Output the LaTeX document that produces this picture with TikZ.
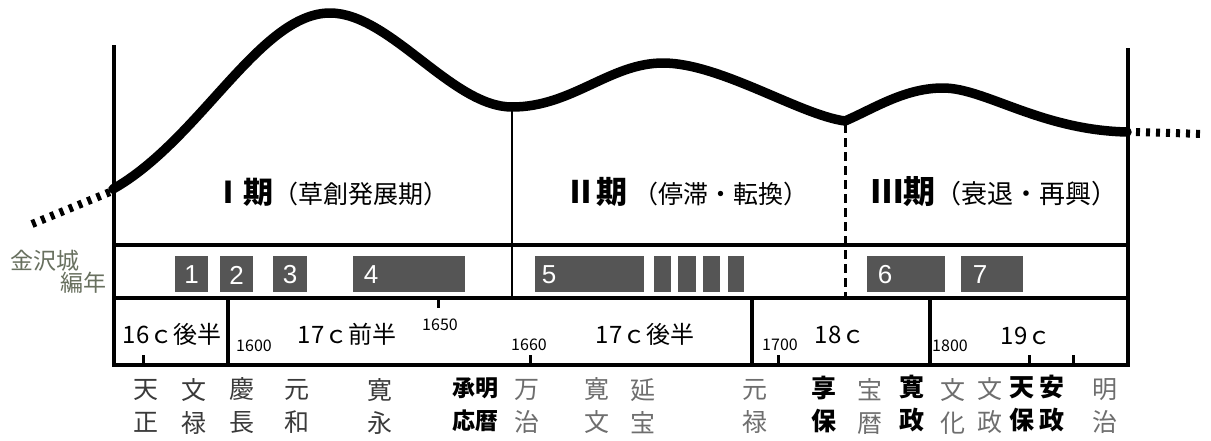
\documentclass[tikz,border=0pt]{standalone}
\usepackage{fontspec}
\setmainfont{Liberation Sans}
\newfontfamily\jp{Noto Sans CJK JP}
\definecolor{eraA}{HTML}{3A3A3A}
\definecolor{eraB}{HTML}{6E6E6E}
\definecolor{boxgray}{HTML}{555555}
\definecolor{olive}{HTML}{68705F}
\begin{document}
\begin{tikzpicture}[x=1pt,y=-1pt,
  frame/.style={line width=4.5pt},
  thin frame/.style={line width=2.5pt},
  curveline/.style={line width=9.5pt, line cap=round, line join=round},
  dotline/.style={line width=8pt, dash pattern=on 4pt off 6pt},
  era/.style={font=\jp\fontsize{25}{33}\selectfont, align=center, inner sep=0pt, text=eraB},
  eradark/.style={era, text=eraA},
  erabold/.style={era, text=black, font=\jp\bfseries\fontsize{25}{33}\selectfont},
  cent/.style={font=\jp\fontsize{24}{24}\selectfont, inner sep=0pt},
  year/.style={font=\jp\fontsize{16}{16}\selectfont, inner sep=0pt},
  period/.style={anchor=west, inner sep=0pt},
  numbox/.style={fill=boxgray, draw=none},
  num/.style={font=\fontsize{26}{26}\selectfont, text=white, inner sep=0pt},
  tick/.style={line width=3pt}
]
\useasboundingbox (0,0) rectangle (1211,440);

% main curve
\coordinate (S) at (113,189);
\coordinate (P1) at (330,13);
\coordinate (T1) at (512,107);
\coordinate (P2) at (663,63);
\coordinate (T2) at (845,121);
\coordinate (P3) at (943,88);
\coordinate (E) at (1127,132);
\draw[curveline] (S) .. controls (200,140) and (260,13) .. (P1)
  .. controls (390,13) and (452,107) .. (T1)
  .. controls (572,107) and (610,63) .. (P2)
  .. controls (720,63) and (800,115) .. (T2)
  .. controls (875,108) and (905,88) .. (P3)
  .. controls (985,88) and (1040,130) .. (E);
\coordinate (ls) at (32,224);
\coordinate (le) at (110,192);
\coordinate (rs) at (1136,132);
\coordinate (re) at (1205,134);
\draw[dotline] (ls) -- (le);
\draw[dotline] (rs) -- (re);

% frame
\coordinate (TL) at (114,45);
\coordinate (BL) at (114,365);
\coordinate (TR) at (1128,48);
\coordinate (BR) at (1128,365);
\coordinate (M2) at (512,298);
\coordinate (D2) at (845,298);
\draw[frame] (TL) -- (BL);
\draw[frame] (TR) -- (BR);
\draw[frame] (114,245) -- (1128,245);
\draw[frame] (114,298) -- (1128,298);
\draw[frame] (112,365) -- (1130,365);
\draw[thin frame] (T1) -- (M2);
\draw[line width=3pt, dash pattern=on 9pt off 5pt] (T2) ++(0,3) -- (D2);
\draw[frame] (228,298) -- (228,365);
\draw[frame] (752,298) -- (752,365);
\draw[frame] (930,298) -- (930,365);
% ticks
\draw[tick] (143,365) -- (143,355);
\draw[tick] (438,298) -- (438,308);
\draw[tick] (530,365) -- (530,355);
\draw[tick] (778,365) -- (778,355);
\draw[tick] (1029,365) -- (1029,355);
\draw[tick] (1073,365) -- (1073,355);

% period labels
\node[period] (p1) at (213,192) {{\jp\bfseries\fontsize{30}{30}\selectfont Ⅰ期}{\jp\fontsize{25}{25}\selectfont（草創発展期）}};
\node[period] (p2) at (565,192) {{\jp\bfseries\fontsize{31}{31}\selectfont Ⅱ期}\hspace{6pt}{\jp\fontsize{25}{25}\selectfont（停滞・転換）}};
\node[period] (p3) at (871,192) {{\jp\bfseries\fontsize{32}{32}\selectfont Ⅲ期}{\jp\fontsize{26}{26}\selectfont（衰退・再興）}};

% castle chronology row
\node[font=\jp\fontsize{23}{23}\selectfont, text=olive, inner sep=0pt] (k1) at (45,261) {金沢城};
\node[font=\jp\fontsize{23}{23}\selectfont, text=olive, inner sep=0pt] (k2) at (83,283) {編年};

\fill[numbox] (175,256) rectangle (208,292);
\fill[numbox] (220,256) rectangle (253,292);
\fill[numbox] (273,256) rectangle (307,292);
\fill[numbox] (353,256) rectangle (465,292);
\fill[numbox] (535,256) rectangle (644,292);
\fill[numbox] (654,256) rectangle (671,292);
\fill[numbox] (678,256) rectangle (696,292);
\fill[numbox] (703,256) rectangle (720,292);
\fill[numbox] (728,256) rectangle (744,292);
\fill[numbox] (867,256) rectangle (945,292);
\fill[numbox] (961,256) rectangle (1023,292);
\node[num] (n1) at (191.5,275) {1};
\node[num] (n2) at (236.5,275) {2};
\node[num] (n3) at (290,275) {3};
\node[num] (n4) at (371,275) {4};
\node[num] (n5) at (549,275) {5};
\node[num] (n6) at (885,275) {6};
\node[num] (n7) at (980,275) {7};

% century row
\node[cent] (c16) at (172,334) {16ｃ後半};
\node[year] (y1600) at (254,346) {1600};
\node[cent] (c17a) at (347,334) {17ｃ前半};
\node[year] (y1650) at (440,325) {1650};
\node[year] (y1660) at (529,345) {1660};
\node[cent] (c17b) at (645,334) {17ｃ後半};
\node[year] (y1700) at (780,345) {1700};
\node[cent] (c18) at (840,335) {18ｃ};
\node[year] (y1800) at (950,346) {1800};
\node[cent] (c19) at (1026,336) {19ｃ};

% era names
\node[eradark] (e1) at (146,406) {天\\正};
\node[eradark] (e2) at (194,406) {文\\禄};
\node[eradark] (e3) at (242,406) {慶\\長};
\node[eradark] (e4) at (297,406) {元\\和};
\node[eradark] (e5) at (380,406) {寛\\永};
\node[erabold, font=\jp\bfseries\fontsize{23}{33}\selectfont] (e6) at (475,405) {承明\\応暦};
\node[era] (e7) at (527,406) {万\\治};
\node[era] (e8) at (597,406) {寛\\文};
\node[era] (e9) at (643,406) {延\\宝};
\node[era] (e10) at (755,406) {元\\禄};
\node[erabold] (e11) at (824,404) {享\\保};
\node[era] (e12) at (870,406) {宝\\暦};
\node[erabold] (e13) at (912,404) {寛\\政};
\node[era] (e14) at (953,406) {文\\化};
\node[era] (e15) at (990,406) {文\\政};
\node[erabold] (e16) at (1022,404) {天\\保};
\node[erabold] (e17) at (1052,404) {安\\政};
\node[era] (e18) at (1105,406) {明\\治};
\end{tikzpicture}
\end{document}
